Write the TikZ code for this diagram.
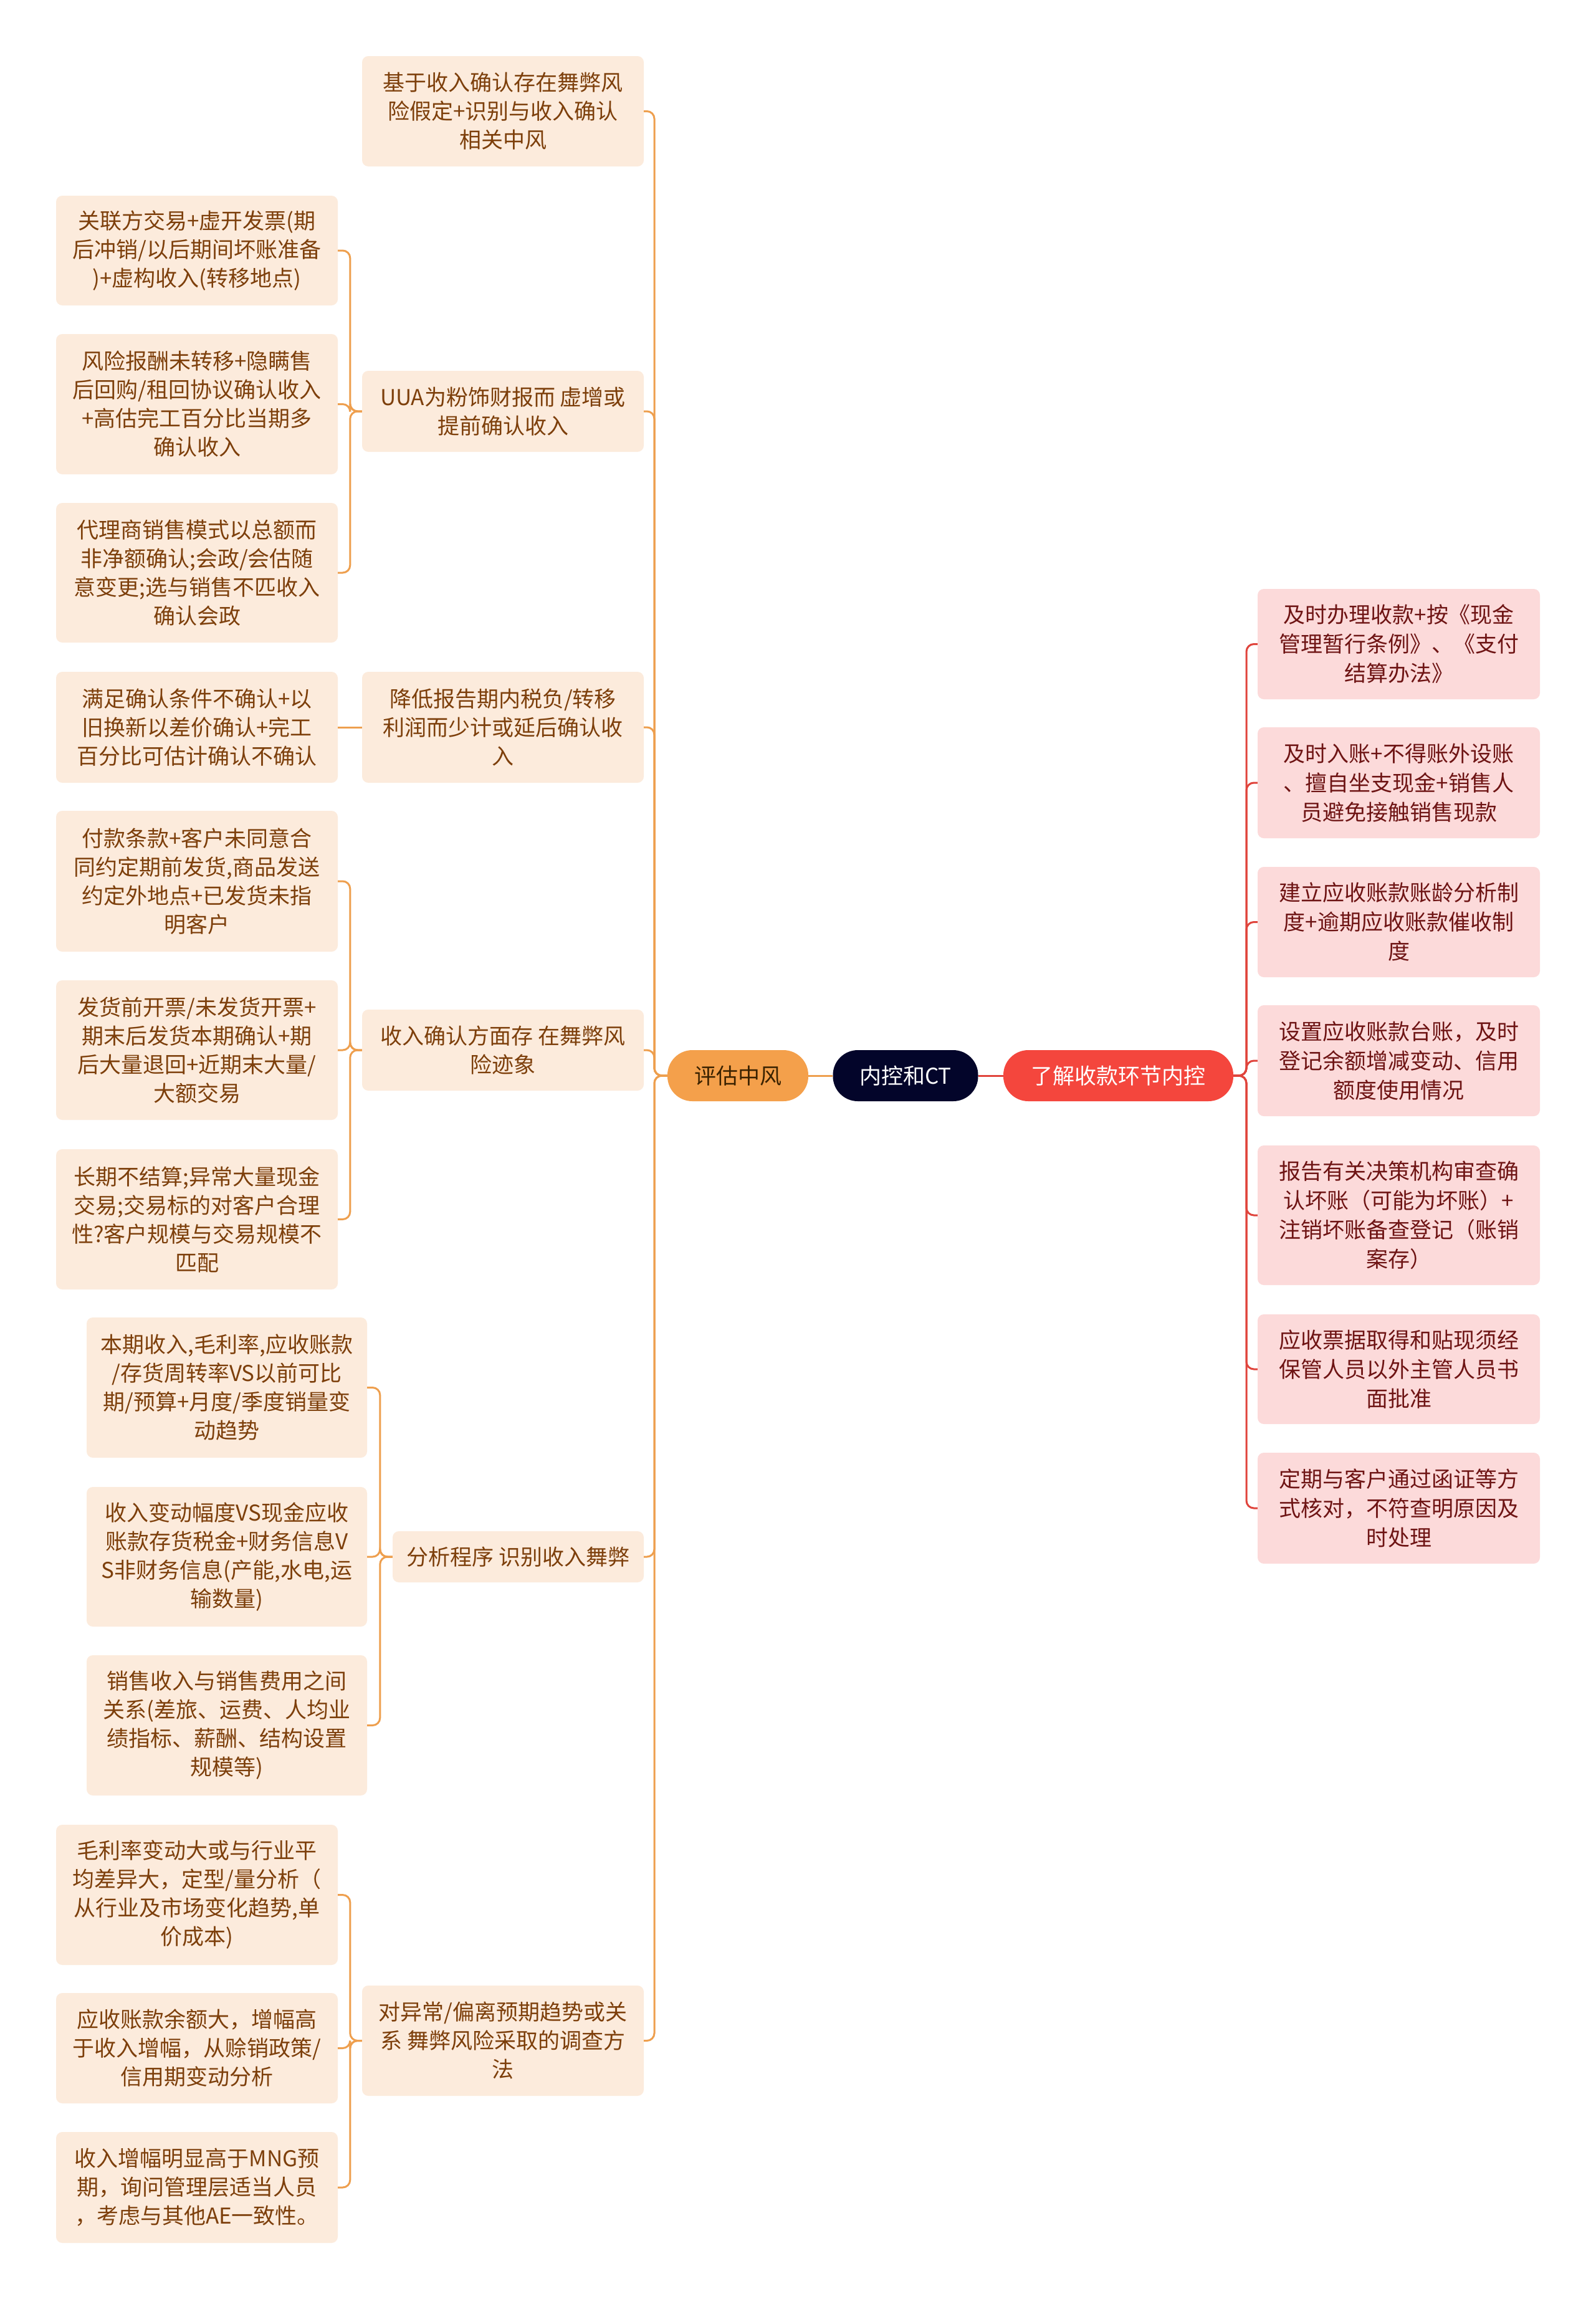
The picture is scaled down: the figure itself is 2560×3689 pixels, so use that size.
\documentclass[tikz,border=0pt]{standalone}
\usepackage{fontspec}
\newfontfamily\cjk{Noto Sans CJK SC}
\definecolor{lfill}{HTML}{FCEBDC}
\definecolor{ltext}{HTML}{7D3F0B}
\definecolor{lline}{HTML}{EE9F4E}
\definecolor{rfill}{HTML}{FCDADA}
\definecolor{rtext}{HTML}{6E1414}
\definecolor{rline}{HTML}{E0443C}
\definecolor{evfill}{HTML}{F4A04B}
\definecolor{evtext}{HTML}{3A2200}
\definecolor{rootfill}{HTML}{03052A}
\definecolor{ljfill}{HTML}{F4463D}
\tikzset{
  txt/.style={font=\cjk\fontsize{35}{46}\selectfont, align=center, inner sep=0pt},
  lbox/.style={txt, rectangle, rounded corners=10pt, fill=lfill, text=ltext, minimum width=452pt},
  rbox/.style={txt, rectangle, rounded corners=10pt, fill=rfill, text=rtext, minimum width=453pt, font=\cjk\fontsize{35}{47}\selectfont},
  pill/.style={txt, rectangle, rounded corners=40pt, minimum height=82pt},
  lconn/.style={draw=lline, line width=3pt, rounded corners=12pt},
  rconn/.style={draw=rline, line width=3pt, rounded corners=12pt}
}
\begin{document}
\begin{tikzpicture}[x=1pt,y=-1pt]
\useasboundingbox[fill=white] (0,0) rectangle (2560,3689);

% central nodes
\node[pill, fill=evfill, text=evtext, minimum width=226pt] (ev) at (1184,1726) {评估中风};
\node[pill, fill=rootfill, text=white, minimum width=233pt] (root) at (1453,1726) {内控和CT};
\node[pill, fill=ljfill, text=white, minimum width=369pt] (lj) at (1794.5,1726) {了解收款环节内控};

% left level 1
\node[lbox, minimum height=177pt] (k1) at (807,178.5) {基于收入确认存在舞弊风\\险假定+识别与收入确认\\相关中风};
\node[lbox, minimum height=130pt] (k2) at (807,660) {UUA为粉饰财报而 虚增或\\提前确认收入};
\node[lbox, minimum height=178pt] (k3) at (807,1167) {降低报告期内税负/转移\\利润而少计或延后确认收\\入};
\node[lbox, minimum height=130pt] (k4) at (807,1685) {收入确认方面存 在舞弊风\\险迹象};
\node[lbox, minimum width=403pt, minimum height=82pt] (k5) at (831.5,2498) {分析程序 识别收入舞弊};
\node[lbox, minimum height=177pt] (k6) at (807,3274.5) {对异常/偏离预期趋势或关\\系 舞弊风险采取的调查方\\法};

% left level 2
\node[lbox, minimum height=176pt] (a1) at (316,402) {关联方交易+虚开发票(期\\后冲销/以后期间坏账准备\\)+虚构收入(转移地点)};
\node[lbox, minimum height=225pt] (a2) at (316,648.5) {风险报酬未转移+隐瞒售\\后回购/租回协议确认收入\\+高估完工百分比当期多\\确认收入};
\node[lbox, minimum height=224pt] (a3) at (316,919) {代理商销售模式以总额而\\非净额确认;会政/会估随\\意变更;选与销售不匹收入\\确认会政};

\node[lbox, minimum height=178pt] (b1) at (316,1167) {满足确认条件不确认+以\\旧换新以差价确认+完工\\百分比可估计确认不确认};

\node[lbox, minimum height=226pt] (c1) at (316,1414) {付款条款+客户未同意合\\同约定期前发货,商品发送\\约定外地点+已发货未指\\明客户};
\node[lbox, minimum height=224pt] (c2) at (316,1685) {发货前开票/未发货开票+\\期末后发货本期确认+期\\后大量退回+近期末大量/\\大额交易};
\node[lbox, minimum height=225pt] (c3) at (316,1956.5) {长期不结算;异常大量现金\\交易;交易标的对客户合理\\性?客户规模与交易规模不\\匹配};

\node[lbox, minimum width=450pt, minimum height=225pt] (d1) at (364,2226.5) {本期收入,毛利率,应收账款\\/存货周转率VS以前可比\\期/预算+月度/季度销量变\\动趋势};
\node[lbox, minimum width=450pt, minimum height=224pt] (d2) at (364,2498) {收入变动幅度VS现金应收\\账款存货税金+财务信息V\\S非财务信息(产能,水电,运\\输数量)};
\node[lbox, minimum width=450pt, minimum height=225pt] (d3) at (364,2768.5) {销售收入与销售费用之间\\关系(差旅、运费、人均业\\绩指标、薪酬、结构设置\\规模等)};

\node[lbox, minimum height=225pt] (e1) at (316,3040.5) {毛利率变动大或与行业平\\均差异大，定型/量分析（\\从行业及市场变化趋势,单\\价成本)};
\node[lbox, minimum height=177pt] (e2) at (316,3286.5) {应收账款余额大，增幅高\\于收入增幅，从赊销政策/\\信用期变动分析};
\node[lbox, minimum height=178pt] (e3) at (316,3510) {收入增幅明显高于MNG预\\期，询问管理层适当人员\\，考虑与其他AE一致性。};

% right boxes
\node[rbox, minimum height=177pt] (r1) at (2244.5,1033.5) {及时办理收款+按《现金\\管理暂行条例》、《支付\\结算办法》};
\node[rbox, minimum height=178pt] (r2) at (2244.5,1256) {及时入账+不得账外设账\\、擅自坐支现金+销售人\\员避免接触销售现款};
\node[rbox, minimum height=177pt] (r3) at (2244.5,1479.5) {建立应收账款账龄分析制\\度+逾期应收账款催收制\\度};
\node[rbox, minimum height=178pt] (r4) at (2244.5,1702) {设置应收账款台账，及时\\登记余额增减变动、信用\\额度使用情况};
\node[rbox, minimum height=224pt] (r5) at (2244.5,1950) {报告有关决策机构审查确\\认坏账（可能为坏账）+\\注销坏账备查登记（账销\\案存）};
\node[rbox, minimum height=176pt] (r6) at (2244.5,2197) {应收票据取得和贴现须经\\保管人员以外主管人员书\\面批准};
\node[rbox, minimum height=178pt] (r7) at (2244.5,2420) {定期与客户通过函证等方\\式核对，不符查明原因及\\时处理};

% central links
\draw[draw=lline, line width=3pt] (root.west) -- (ev.east);
\draw[draw=rline, line width=3pt] (root.east) -- (lj.west);

% left trunk
\coordinate (lt) at (1050,1726);
\foreach \k in {k1,k2,k3,k4,k5,k6}{
  \draw[lconn] (ev.west) -- (lt) |- (\k.east);
}
% level 2 brackets
\foreach \c in {a1,a2,a3}{ \draw[lconn] (k2.west) -- ++(-19,0) |- (\c.east); }
\draw[lconn] (k3.west) -- (b1.east);
\foreach \c in {c1,c2,c3}{ \draw[lconn] (k4.west) -- ++(-19,0) |- (\c.east); }
\foreach \c in {d1,d2,d3}{ \draw[lconn] (k5.west) -- ++(-20,0) |- (\c.east); }
\foreach \c in {e1,e2,e3}{ \draw[lconn] (k6.west) -- ++(-19,0) |- (\c.east); }

% right trunk
\coordinate (rt) at (2000,1726);
\foreach \r in {r1,r2,r3,r4,r5,r6,r7}{
  \draw[rconn] (lj.east) -- (rt) |- (\r.west);
}
\end{tikzpicture}
\end{document}
